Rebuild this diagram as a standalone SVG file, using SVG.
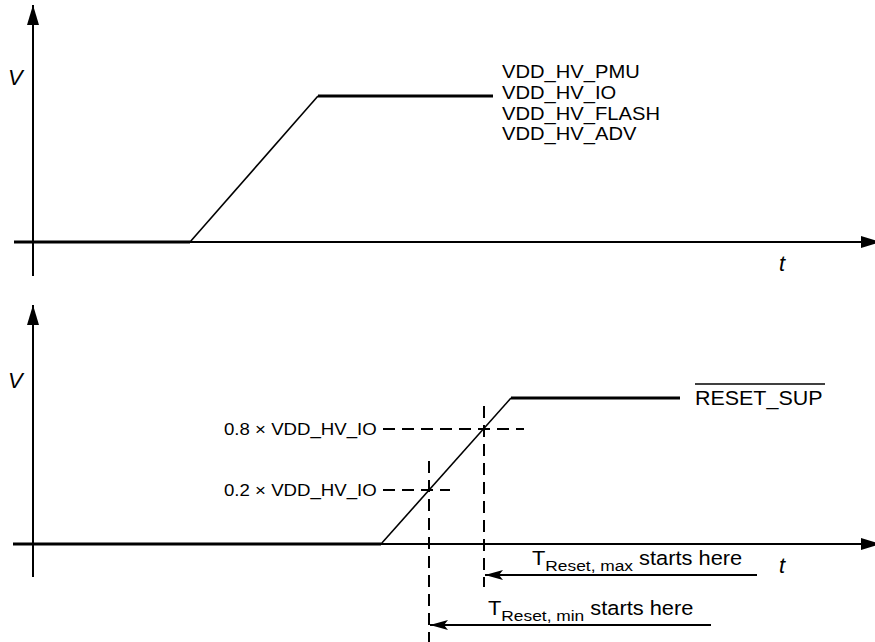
<svg xmlns="http://www.w3.org/2000/svg" width="875" height="642" viewBox="0 0 875 642">
<style>
text{font-family:"Liberation Sans",Arial,sans-serif;fill:#000}
.vdd{font-size:18px}
.thr{font-size:16.5px}
.rs{font-size:19.5px}
.tl{font-size:19.5px}
.sub{font-size:15.5px}
.it{font-size:22px;font-style:italic}
.axis{stroke:#000;stroke-width:2;fill:none}
.sig{stroke:#000;stroke-width:3;fill:none}
.ramp{stroke:#000;stroke-width:1.6;fill:none}
.dash{stroke:#000;stroke-width:2;fill:none;stroke-dasharray:12,7}
.arr{stroke:#000;stroke-width:2;fill:none}
</style>
<defs>
<marker id="ah" viewBox="0 0 20 12" refX="20" refY="6" markerWidth="20" markerHeight="12" markerUnits="userSpaceOnUse" orient="auto">
<path d="M0,0 L20,6 L0,12 Z" fill="#000"/>
</marker>
<marker id="ah2" viewBox="0 0 18 10" refX="18" refY="5" markerWidth="18" markerHeight="10" markerUnits="userSpaceOnUse" orient="auto">
<path d="M0,0 L18,5 L0,10 L4,5 Z" fill="#000"/>
</marker>
</defs>
<g id="top-chart">
<line class="axis" x1="33" y1="276" x2="33" y2="5" marker-end="url(#ah)"/>
<line class="axis" x1="14" y1="242" x2="881" y2="242" marker-end="url(#ah)"/>
<text class="it" x="8" y="85">V</text>
<text class="it" x="779" y="271">t</text>
</g>
<g id="top-signal">
<line class="sig" x1="14" y1="242" x2="190" y2="242"/>
<line class="ramp" x1="190" y1="242" x2="318" y2="96"/>
<line class="sig" x1="318" y1="96" x2="493" y2="96"/>
<text class="vdd" transform="translate(502,78) scale(1.12,1)">VDD_HV_PMU</text>
<text class="vdd" transform="translate(502,99) scale(1.12,1)">VDD_HV_IO</text>
<text class="vdd" transform="translate(502,120) scale(1.12,1)">VDD_HV_FLASH</text>
<text class="vdd" transform="translate(502,140) scale(1.12,1)">VDD_HV_ADV</text>
</g>
<g id="bottom-chart">
<line class="axis" x1="33" y1="577" x2="33" y2="305" marker-end="url(#ah)"/>
<line class="axis" x1="13" y1="544" x2="881" y2="544" marker-end="url(#ah)"/>
<text class="it" x="8" y="388">V</text>
<text class="it" x="779" y="573">t</text>
</g>
<g id="bottom-signal">
<line class="sig" x1="13" y1="544" x2="381" y2="544"/>
<line class="ramp" x1="381" y1="544" x2="511" y2="398"/>
<line class="sig" x1="511" y1="398" x2="680" y2="398"/>
<text class="rs" transform="translate(695,405) scale(1.1,1)">RESET_SUP</text>
<line x1="695" y1="384" x2="825" y2="384" stroke="#000" stroke-width="1.5"/>
</g>
<g id="thresholds">
<text class="thr" transform="translate(224,435) scale(1.13,1)">0.8 × VDD_HV_IO</text>
<text class="thr" transform="translate(224,496) scale(1.13,1)">0.2 × VDD_HV_IO</text>
</g>
<g id="connectors">
<line class="dash" x1="383" y1="429" x2="524" y2="429"/>
<line class="dash" x1="383" y1="490" x2="450" y2="490"/>
<line class="dash" x1="484" y1="406" x2="484" y2="587"/>
<line class="dash" x1="429" y1="461" x2="429" y2="642"/>
<line class="arr" x1="757" y1="575" x2="485" y2="575" marker-end="url(#ah2)"/>
<line class="arr" x1="711" y1="625" x2="430" y2="625" marker-end="url(#ah2)"/>
</g>
<g id="treset-labels">
<text class="tl" transform="translate(532,565) scale(1.12,1)">T<tspan class="sub" dy="6">Reset, max</tspan><tspan dy="-6"> starts here</tspan></text>
<text class="tl" transform="translate(488,615) scale(1.12,1)">T<tspan class="sub" dy="6">Reset, min</tspan><tspan dy="-6"> starts here</tspan></text>
</g>
</svg>
